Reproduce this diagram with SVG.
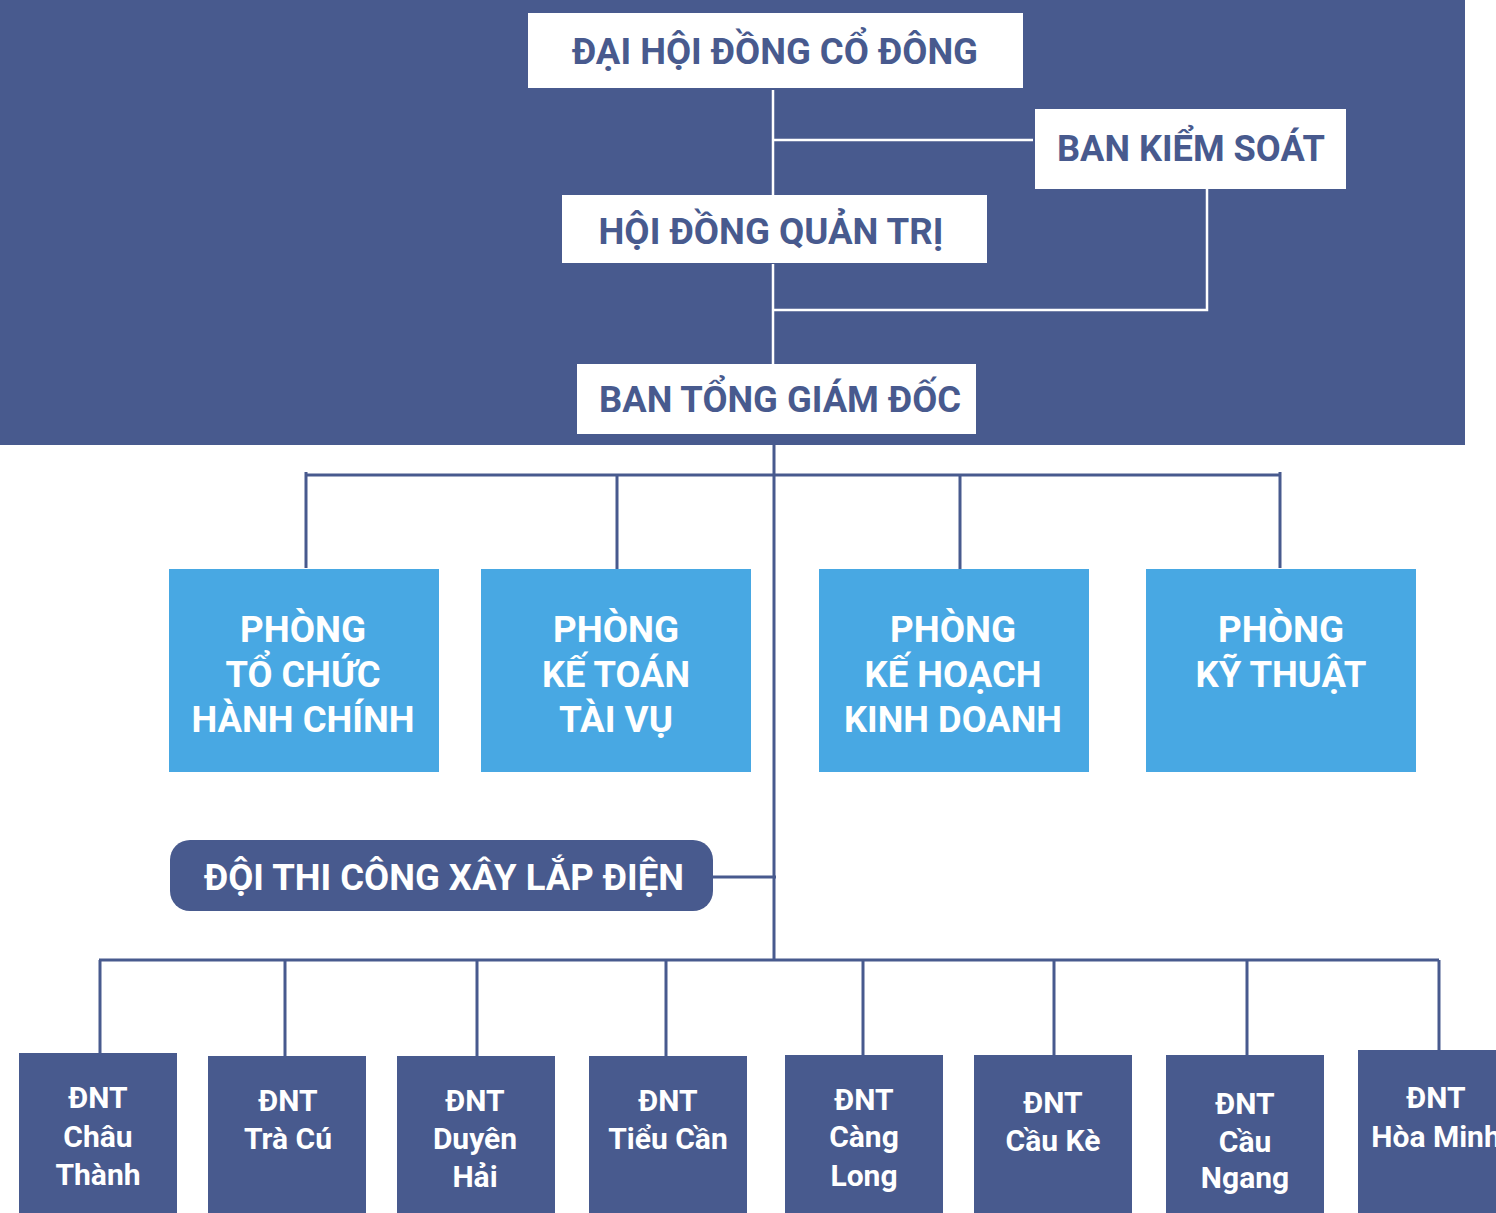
<svg xmlns="http://www.w3.org/2000/svg" width="1496" height="1213" viewBox="0 0 1496 1213">
<style>
.bg{fill:#485a8e}
.wbox{fill:#ffffff}
.lbox{fill:#48a8e3}
.dbox{fill:#485a8e}
.tw{font-family:Roboto,"Liberation Sans",sans-serif;font-weight:700;font-size:36px;fill:#485a8e;text-anchor:middle}
.tl{font-family:Roboto,"Liberation Sans",sans-serif;font-weight:700;font-size:36px;fill:#ffffff;text-anchor:middle}
.tp{font-family:Roboto,"Liberation Sans",sans-serif;font-weight:700;font-size:37px;fill:#ffffff;text-anchor:middle}
.tb{font-family:Roboto,"Liberation Sans",sans-serif;font-weight:700;font-size:30px;fill:#ffffff;text-anchor:middle}
.cw{stroke:#ffffff;stroke-width:2.5;fill:none}
.cd{stroke:#485a8e;stroke-width:3;fill:none}
</style>
<rect class="bg" x="0" y="0" width="1465" height="445"/>
<g id="connectors">
<path class="cw" d="M773 90V195M773 140H1033M773 264V364M1207 189V310H773"/>
<path class="cd" d="M774 445V960M306 472V568M306 475H1280M617 475V572M960 475V569M1280 472V568"/>
<path class="cd" d="M713 877H776M99 960H1439M100 960V1053M285 960V1056M477 960V1056M666 960V1056M863 960V1055M1054 960V1055M1247 960V1055M1439 960V1050"/>
</g>
<g id="dai-hoi-dong-co-dong">
<rect class="wbox" x="528" y="13" width="495" height="75"/>
<text class="tw" x="775" y="64" textLength="406" lengthAdjust="spacingAndGlyphs">ĐẠI HỘI ĐỒNG CỔ ĐÔNG</text>
</g>
<g id="ban-kiem-soat">
<rect class="wbox" x="1035" y="109" width="311" height="80"/>
<text class="tw" x="1191" y="161" textLength="268" lengthAdjust="spacingAndGlyphs">BAN KIỂM SOÁT</text>
</g>
<g id="hoi-dong-quan-tri">
<rect class="wbox" x="562" y="195" width="425" height="68"/>
<text class="tw" x="771" y="244" textLength="345" lengthAdjust="spacingAndGlyphs">HỘI ĐỒNG QUẢN TRỊ</text>
</g>
<g id="ban-tong-giam-doc">
<rect class="wbox" x="577" y="364" width="399" height="70"/>
<text class="tw" x="780" y="412" textLength="362" lengthAdjust="spacingAndGlyphs">BAN TỔNG GIÁM ĐỐC</text>
</g>
<g id="phong-to-chuc-hanh-chinh">
<rect class="lbox" x="169" y="569" width="270" height="203"/>
<text class="tl"><tspan x="303" y="642" textLength="126" lengthAdjust="spacingAndGlyphs">PHÒNG</tspan><tspan x="303" y="687" textLength="155" lengthAdjust="spacingAndGlyphs">TỔ CHỨC</tspan><tspan x="303" y="732" textLength="223" lengthAdjust="spacingAndGlyphs">HÀNH CHÍNH</tspan></text>
</g>
<g id="phong-ke-toan-tai-vu">
<rect class="lbox" x="481" y="569" width="270" height="203"/>
<text class="tl"><tspan x="616" y="642" textLength="126" lengthAdjust="spacingAndGlyphs">PHÒNG</tspan><tspan x="616" y="687" textLength="148" lengthAdjust="spacingAndGlyphs">KẾ TOÁN</tspan><tspan x="616" y="732" textLength="114" lengthAdjust="spacingAndGlyphs">TÀI VỤ</tspan></text>
</g>
<g id="phong-ke-hoach-kinh-doanh">
<rect class="lbox" x="819" y="569" width="270" height="203"/>
<text class="tl"><tspan x="953" y="642" textLength="126" lengthAdjust="spacingAndGlyphs">PHÒNG</tspan><tspan x="953" y="687" textLength="177" lengthAdjust="spacingAndGlyphs">KẾ HOẠCH</tspan><tspan x="953" y="732" textLength="218" lengthAdjust="spacingAndGlyphs">KINH DOANH</tspan></text>
</g>
<g id="phong-ky-thuat">
<rect class="lbox" x="1146" y="569" width="270" height="203"/>
<text class="tl"><tspan x="1281" y="642" textLength="126" lengthAdjust="spacingAndGlyphs">PHÒNG</tspan><tspan x="1281" y="687" textLength="171" lengthAdjust="spacingAndGlyphs">KỸ THUẬT</tspan></text>
</g>
<g id="doi-thi-cong-xay-lap-dien">
<rect class="dbox" x="170" y="840" width="543" height="71" rx="20" ry="20"/>
<text class="tp" x="444" y="890" textLength="480" lengthAdjust="spacingAndGlyphs">ĐỘI THI CÔNG XÂY LẮP ĐIỆN</text>
</g>
<g id="dnt-chau-thanh">
<rect class="dbox" x="19" y="1053" width="158" height="160"/>
<text class="tb"><tspan x="98" y="1108">ĐNT</tspan><tspan x="98" y="1147">Châu</tspan><tspan x="98" y="1185">Thành</tspan></text>
</g>
<g id="dnt-tra-cu">
<rect class="dbox" x="208" y="1056" width="158" height="157"/>
<text class="tb"><tspan x="288" y="1111">ĐNT</tspan><tspan x="288" y="1149">Trà Cú</tspan></text>
</g>
<g id="dnt-duyen-hai">
<rect class="dbox" x="397" y="1056" width="158" height="157"/>
<text class="tb"><tspan x="475" y="1111">ĐNT</tspan><tspan x="475" y="1149">Duyên</tspan><tspan x="475" y="1187">Hải</tspan></text>
</g>
<g id="dnt-tieu-can">
<rect class="dbox" x="589" y="1056" width="158" height="157"/>
<text class="tb"><tspan x="668" y="1111">ĐNT</tspan><tspan x="668" y="1149">Tiểu Cần</tspan></text>
</g>
<g id="dnt-cang-long">
<rect class="dbox" x="785" y="1055" width="158" height="158"/>
<text class="tb"><tspan x="864" y="1110">ĐNT</tspan><tspan x="864" y="1147">Càng</tspan><tspan x="864" y="1186">Long</tspan></text>
</g>
<g id="dnt-cau-ke">
<rect class="dbox" x="974" y="1055" width="158" height="158"/>
<text class="tb"><tspan x="1053" y="1113">ĐNT</tspan><tspan x="1053" y="1151">Cầu Kè</tspan></text>
</g>
<g id="dnt-cau-ngang">
<rect class="dbox" x="1166" y="1055" width="158" height="158"/>
<text class="tb"><tspan x="1245" y="1114">ĐNT</tspan><tspan x="1245" y="1152">Cầu</tspan><tspan x="1245" y="1188">Ngang</tspan></text>
</g>
<g id="dnt-hoa-minh">
<rect class="dbox" x="1358" y="1050" width="158" height="163"/>
<text class="tb"><tspan x="1436" y="1108">ĐNT</tspan><tspan x="1436" y="1147">Hòa Minh</tspan></text>
</g>
</svg>
